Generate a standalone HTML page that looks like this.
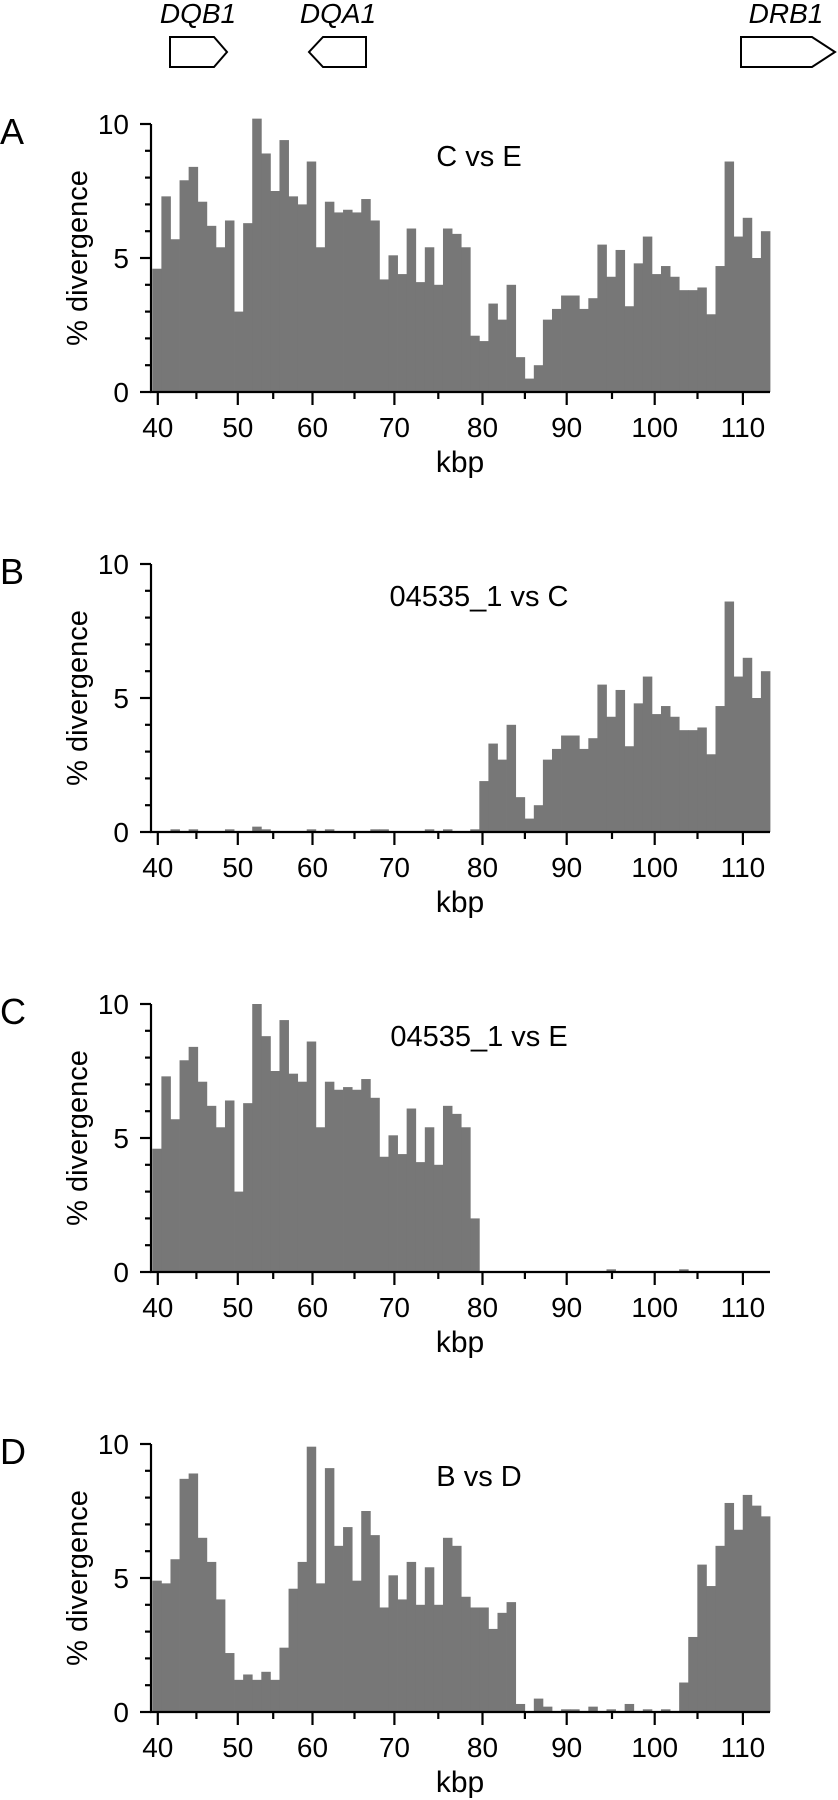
<!DOCTYPE html>
<html><head><meta charset="utf-8"><style>
html,body{margin:0;padding:0;background:#fff;}
svg{display:block;font-family:"Liberation Sans",sans-serif;}
</style></head><body>
<svg id="fig" width="838" height="1800" viewBox="0 0 838 1800">
<g fill="none" stroke="#000" stroke-width="2">
<polygon points="170,37 214,37 227,52 214,67 170,67"/>
<polygon points="366,37 323,37 309,52 323,67 366,67"/>
<polygon points="741,37 812,37 835,52 812,67 741,67"/>
</g>
<g font-style="italic" font-size="28" text-anchor="middle">
<text x="198" y="23">DQB1</text>
<text x="338" y="23">DQA1</text>
<text x="786" y="23">DRB1</text>
</g>
</svg>
<script>
const panelLetters = ["A","B","C","D"];
const panelTitles = ["C vs E","04535_1 vs C","04535_1 vs E","B vs D"];
const xTicks = [40,50,60,70,80,90,100,110];
const xMinorTicks = [45,55,65,75,85,95,105];
const yTicks = [0,5,10];
const seriesA = [4.6,7.3,5.7,7.9,8.4,7.1,6.2,5.4,6.4,3.0,6.3,10.2,8.9,7.5,9.4,7.3,7.0,8.6,5.4,7.1,6.7,6.8,6.7,7.2,6.4,4.2,5.1,4.4,6.1,4.1,5.4,4.0,6.1,5.9,5.4,2.1,1.9,3.3,2.7,4.0,1.3,0.5,1.0,2.7,3.1,3.6,3.6,3.1,3.5,5.5,4.3,5.3,3.2,4.8,5.8,4.4,4.7,4.3,3.8,3.8,3.9,2.9,4.7,8.6,5.8,6.5,5.0,6.0];
const seriesB = [0,0,0.1,0,0.1,0,0,0,0.1,0,0,0.2,0.1,0,0,0,0,0.1,0,0.1,0,0,0,0,0.1,0.1,0,0,0,0,0.1,0,0.1,0,0,0.1,1.9,3.3,2.7,4.0,1.3,0.5,1.0,2.7,3.1,3.6,3.6,3.1,3.5,5.5,4.3,5.3,3.2,4.8,5.8,4.4,4.7,4.3,3.8,3.8,3.9,2.9,4.7,8.6,5.8,6.5,5.0,6.0];
const seriesC = [4.6,7.3,5.7,7.9,8.4,7.1,6.2,5.4,6.4,3.0,6.3,10.0,8.8,7.5,9.4,7.4,7.1,8.6,5.4,7.1,6.8,6.9,6.8,7.2,6.5,4.3,5.1,4.4,6.1,4.1,5.4,4.0,6.2,5.9,5.4,2.0,0,0,0,0,0,0,0,0,0,0,0,0,0,0,0.1,0,0,0,0,0,0,0,0.1,0,0,0,0,0,0,0,0,0];
const seriesD = [4.9,4.8,5.7,8.7,8.9,6.5,5.6,4.2,2.2,1.2,1.4,1.2,1.5,1.2,2.4,4.6,5.6,9.9,4.8,9.1,6.2,6.9,4.9,7.5,6.6,3.9,5.1,4.2,5.6,4.0,5.4,4.0,6.5,6.2,4.3,3.9,3.9,3.1,3.7,4.1,0.3,0,0.5,0.2,0,0.1,0.1,0,0.2,0,0.1,0,0.3,0,0.1,0,0.1,0,1.1,2.8,5.5,4.7,6.2,7.8,6.8,8.1,7.7,7.3];
const allSeries = [seriesA,seriesB,seriesC,seriesD];

const NS = "http://www.w3.org/2000/svg";
const svg = document.getElementById("fig");
// tick axis (reference axis is slightly non-linear; calibrated at 5-kbp anchors)
const axisKbp = [40,45,50,55,60,65,70,75,80,85,90,95,100,105,110];
const axisPx  = [157.8,196.4,237.8,273.2,312.5,354.5,394.4,438.3,482.5,524.9,566.7,612,654.7,697.5,742.9];
function xScale(k){
  for(let i=0;i<axisKbp.length-1;i++){
    if(k<=axisKbp[i+1] || i===axisKbp.length-2){
      const t=(k-axisKbp[i])/(axisKbp[i+1]-axisKbp[i]);
      return axisPx[i]+t*(axisPx[i+1]-axisPx[i]);
    }
  }
}
// bin axis: equal-width bins spanning the plot
function binX(i, n){ return 152.3 + i*(770-152.3)/n; }
function mk(tag, attrs, parent){ const e=document.createElementNS(NS,tag); for(const k in attrs) e.setAttribute(k,attrs[k]); parent.appendChild(e); return e; }

for(let p=0;p<4;p++){
  const base = 392 + p*440;
  const top = base - 268;
  function yScale(v){ return base - v*26.8; }
  const g = mk("g",{},svg);
  
  
  const bars = mk("g",{fill:"#777"},g);
  
  
  const s = allSeries[p];
  for(let i=0;i<s.length;i++){
    if(s[i]<=0) continue;
    const x0 = binX(i, s.length), x1 = binX(i+1, s.length);
    const r = mk("rect",{x:x0,y:yScale(s[i]),width:x1-x0+0.4,height:base-yScale(s[i])},bars);
    
    
  }
  const ax = mk("g",{stroke:"#000","stroke-width":2.2,fill:"none"},g);
  
  
  mk("line",{x1:151,y1:top,x2:151,y2:base+1},ax);
  mk("line",{x1:150,y1:base,x2:770,y2:base},ax);
  for(let v=0; v<=10; v++){
    const major = yTicks.indexOf(v)>=0;
    mk("line",{x1:major?140:145,y1:yScale(v),x2:151,y2:yScale(v)},ax);
  }
  xTicks.forEach(k=>mk("line",{x1:xScale(k),y1:base,x2:xScale(k),y2:base+13},ax));
  xMinorTicks.forEach(k=>mk("line",{x1:xScale(k),y1:base,x2:xScale(k),y2:base+7},ax));
  yTicks.forEach(v=>{
    const t = mk("text",{x:129,y:yScale(v)+10,"font-size":28,"text-anchor":"end"},g);
    t.textContent = v;
    
    
  });
  xTicks.forEach(k=>{
    const t = mk("text",{x:xScale(k),y:base+45,"font-size":28,"text-anchor":"middle"},g);
    t.textContent = k;
    
    
  });
  const xl = mk("text",{x:460,y:base+80,"font-size":30,"text-anchor":"middle"},g);
  xl.textContent = "kbp";
  
  
  const yl = mk("text",{x:0,y:0,"font-size":29,"text-anchor":"middle",transform:"translate(87,"+(base-134)+") rotate(-90)"},g);
  yl.textContent = "% divergence";
  
  
  const tt = mk("text",{x:479,y:top+42,"font-size":29,"text-anchor":"middle"},g);
  tt.textContent = panelTitles[p];
  
  
  const pl = mk("text",{x:0,y:top+20,"font-size":36},g);
  pl.textContent = panelLetters[p];
  
  
}
</script>
</body></html>
